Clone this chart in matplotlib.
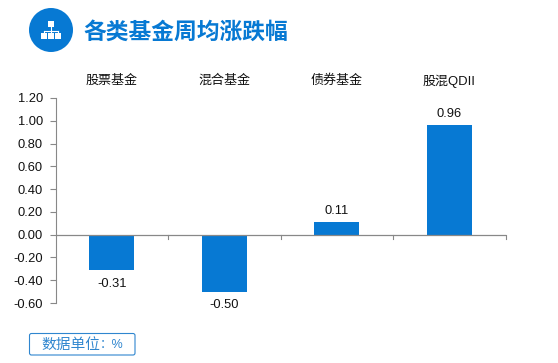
import matplotlib
matplotlib.use("Agg")
import matplotlib.pyplot as plt
from matplotlib.patches import Circle, Rectangle, FancyBboxPatch
from matplotlib.lines import Line2D

categories = ["股票基金", "混合基金", "债券基金", "股混QDII"]
values = [-0.31, -0.50, 0.11, 0.96]
value_labels = ["-0.31", "-0.50", "0.11", "0.96"]
yticks = [-0.6, -0.4, -0.2, 0.0, 0.2, 0.4, 0.6, 0.8, 1.0, 1.2]
title = "各类基金周均涨跌幅"
unit_label = "数据单位"
unit_value = "：%"

BLUE = "#0779D3"
W, H = 558, 363
plt.rcParams["font.family"] = ["Liberation Sans", "Noto Sans CJK SC", "DejaVu Sans"]
fig = plt.figure(figsize=(W / 100, H / 100), dpi=100)

L, R, T, B = 55.5, 505.5, 98, 303
ax = fig.add_axes([L / W, 1 - B / H, (R - L) / W, (B - T) / H])
x = list(range(len(categories)))
ax.bar(x, values, width=0.4, color=BLUE, zorder=2)
ax.set_xlim(-0.5, 3.5)
ax.set_ylim(-0.6, 1.2)
ax.set_yticks(yticks)
ax.set_yticklabels([f"{v:.2f}" for v in yticks], fontsize=9.3, color="#111111")
ax.tick_params(axis="y", length=4, width=0.8, color="#888888", pad=5)
for s in ["top", "right", "bottom"]:
    ax.spines[s].set_visible(False)
ax.spines["left"].set_color("#888888")
ax.spines["left"].set_linewidth(0.8)
ax.axhline(0, color="#888888", lw=0.9, zorder=3)
ax.set_xticks([])
for b in [0.5, 1.5, 2.5, 3.5]:
    ax.plot([b, b], [0, -0.035], color="#888888", lw=0.8, clip_on=False, zorder=3)
for i, (v, s) in enumerate(zip(values, value_labels)):
    ax.annotate(s, (i, v), xytext=(0, 3.5 if v > 0 else -5.5), textcoords="offset points",
                ha="center", va="bottom" if v > 0 else "top", fontsize=9.3, color="#111111")
    ax.text(i, 1.2 + 17 / (B - T) * 1.8, categories[i], ha="center", va="center",
            fontsize=9.4, color="#111111")

overlay = fig.add_axes([0, 0, 1, 1])
overlay.set_xlim(0, W)
overlay.set_ylim(H, 0)
overlay.axis("off")
overlay.add_patch(Circle((51, 30), 22, color=BLUE, lw=0))
for cx, cy in [(51, 24), (44, 36), (51, 36), (58, 36)]:
    overlay.add_patch(Rectangle((cx - 2.8, cy - 2.8), 5.6, 5.6, color="white", lw=0))
overlay.add_line(Line2D([51, 51], [26, 33], color="white", lw=0.8))
overlay.add_line(Line2D([44, 58], [30.5, 30.5], color="white", lw=0.8))
overlay.add_line(Line2D([44, 44], [30.5, 33], color="white", lw=0.8))
overlay.add_line(Line2D([58, 58], [30.5, 33], color="white", lw=0.8))
overlay.text(83, 32.5, title, fontsize=16.4, fontweight="bold", color=BLUE, va="center", ha="left")
overlay.add_patch(FancyBboxPatch((29.5, 333.5), 105.5, 21.5, boxstyle="round,pad=0,rounding_size=2",
                                 fc="white", ec="#2F86CF", lw=0.8))
overlay.text(41, 344.5, unit_label, fontsize=10.6, color="#2F86CF", ha="left", va="center")
overlay.text(124, 344.5, unit_value, fontsize=9, color="#2F86CF", ha="right", va="center")

fig.savefig("out.png", dpi=100)
